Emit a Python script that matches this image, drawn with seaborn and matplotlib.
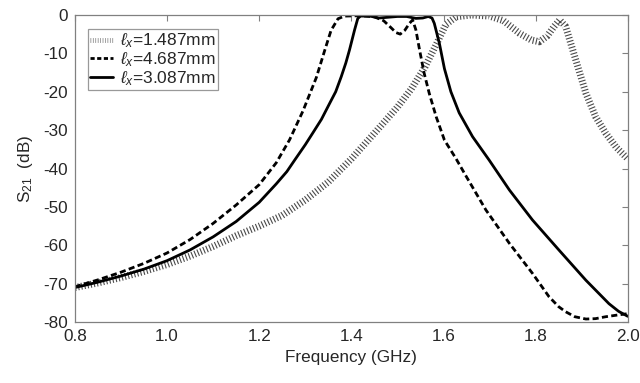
import numpy as np
import pandas as pd
import matplotlib
matplotlib.use("Agg")
import matplotlib.pyplot as plt
import seaborn as sns

# ---- data ----
f_a = [0.80, 0.85, 0.90, 0.95, 1.00, 1.05, 1.10, 1.15, 1.20, 1.25, 1.30, 1.35, 1.40, 1.45,
       1.50, 1.53, 1.56, 1.585, 1.605, 1.627, 1.66, 1.70, 1.73, 1.765, 1.79, 1.808, 1.825,
       1.84, 1.852, 1.865, 1.887, 1.909, 1.93, 1.952, 1.975, 2.00]
s_a = [-71.0, -69.8, -68.4, -66.8, -65.0, -62.8, -60.3, -57.5, -55.0, -52.2, -48.2, -43.5, -37.5, -30.8,
       -24.0, -19.3, -13.5, -7.5, -2.5, -0.5, 0.0, -0.3, -1.5, -4.8, -6.5, -7.0, -5.5,
       -3.0, -1.3, -3.0, -11.7, -20.4, -26.5, -30.8, -34.5, -37.5]

f_b = [0.80, 0.85, 0.90, 0.95, 1.00, 1.05, 1.10, 1.15, 1.20, 1.237, 1.266, 1.295, 1.324,
       1.342, 1.356, 1.371, 1.385, 1.42, 1.45, 1.47, 1.485, 1.497, 1.506, 1.516, 1.526,
       1.533, 1.540, 1.548, 1.558, 1.569, 1.584, 1.602, 1.627, 1.649, 1.692, 1.743, 1.793,
       1.829, 1.85, 1.865, 1.885, 1.909, 1.93, 1.952, 1.975, 2.00]
s_b = [-70.8, -69.0, -67.0, -64.7, -62.0, -58.5, -54.3, -49.5, -44.2, -38.5, -32.5, -25.0, -16.3,
       -9.3, -4.0, -1.0, -0.3, -0.2, -0.5, -1.5, -3.2, -4.6, -5.0, -4.0, -2.2,
       -1.3, -3.9, -9.1, -15.2, -20.4, -26.5, -32.6, -37.4, -42.0, -50.8, -59.5, -67.3,
       -73.4, -76.0, -77.3, -78.6, -79.2, -79.1, -78.6, -78.2, -77.8]

f_c = [0.80, 0.85, 0.90, 0.95, 1.00, 1.05, 1.10, 1.15, 1.20, 1.237, 1.26, 1.277, 1.30, 1.316,
       1.335, 1.353, 1.366, 1.378, 1.388, 1.396, 1.407, 1.414, 1.42, 1.44, 1.46, 1.48, 1.50,
       1.52, 1.54, 1.555, 1.567, 1.575, 1.580, 1.591, 1.602, 1.616, 1.634, 1.663, 1.699,
       1.743, 1.793, 1.851, 1.909, 1.959, 1.98, 2.00]
s_c = [-71.0, -69.6, -68.0, -66.2, -64.0, -61.2, -57.8, -53.8, -48.8, -44.0, -40.8, -37.8, -33.8, -30.8,
       -27.2, -23.0, -20.0, -16.1, -12.5, -9.1, -3.9, -0.9, -0.3, -0.3, -0.8, -0.6, -0.4,
       -0.4, -0.9, -0.8, -0.4, -0.8, -2.2, -7.4, -14.0, -20.0, -25.5, -31.7, -37.8,
       -45.6, -53.4, -61.3, -69.1, -75.2, -77.2, -78.5]

labels = [r'$\mathit{\ell_x}$=1.487mm', r'$\mathit{\ell_x}$=4.687mm', r'$\mathit{\ell_x}$=3.087mm']
x_ticks = [0.8, 1.0, 1.2, 1.4, 1.6, 1.8, 2.0]
y_ticks = [0, -10, -20, -30, -40, -50, -60, -70, -80]

sns.set_style("white")
plt.rcParams['font.family'] = ['Liberation Sans', 'DejaVu Sans']
plt.rcParams['mathtext.fontset'] = 'custom'
plt.rcParams['mathtext.rm'] = 'Liberation Sans'
plt.rcParams['mathtext.it'] = 'Liberation Sans:italic'
plt.rcParams['mathtext.default'] = 'regular'

fig = plt.figure(figsize=(6.4, 3.83), dpi=100)
ax = fig.add_axes([0.117, 0.159, 0.864, 0.802])

df_a = pd.DataFrame({'f': f_a, 's': s_a})
df_b = pd.DataFrame({'f': f_b, 's': s_b})
df_c = pd.DataFrame({'f': f_c, 's': s_c})

sns.lineplot(data=df_a, x='f', y='s', ax=ax, color='#4a4a4a', lw=5.0,
             label=labels[0], estimator=None, sort=False)
sns.lineplot(data=df_b, x='f', y='s', ax=ax, color='black', lw=2.0,
             label=labels[1], estimator=None, sort=False)
sns.lineplot(data=df_c, x='f', y='s', ax=ax, color='black', lw=2.0,
             label=labels[2], estimator=None, sort=False)

lines = ax.get_lines()
lines[0].set_linestyle((0, (0.16, 0.30)))
lines[0].set_dash_capstyle('butt')
lines[1].set_linestyle((0, (2.2, 1.2)))
lines[1].set_dash_capstyle('butt')
for ln in lines:
    ln.set_solid_joinstyle('round')
    ln.set_dash_joinstyle('round')

ax.set_xlim(0.8, 2.0)
ax.set_ylim(-80, 0)
ax.set_xticks(x_ticks)
ax.set_xticklabels([f"{t:.1f}" for t in x_ticks])
ax.set_yticks(y_ticks)
ax.set_yticklabels([str(t) for t in y_ticks])
ax.tick_params(direction='in', length=4, width=0.8, color='#808080',
               top=True, right=True, labelsize=12.3, pad=5)
for sp in ax.spines.values():
    sp.set_color('#808080')
    sp.set_linewidth(0.9)

ax.set_xlabel('Frequency (GHz)', fontsize=12.3, labelpad=4)
ax.set_ylabel(r'S$_{21}$  (dB)', fontsize=12.3, labelpad=6)

leg = ax.legend(loc='upper left', bbox_to_anchor=(0.023, 0.954), fontsize=12.5,
                frameon=True, fancybox=False, handlelength=1.3, handletextpad=0.4,
                borderpad=0.15, labelspacing=0.0, borderaxespad=0)
leg.get_frame().set_edgecolor('#808080')
leg.get_frame().set_linewidth(0.9)
leg_lines = leg.get_lines()
leg_lines[0].set_linestyle((0, (0.15, 0.35)))
leg_lines[0].set_linewidth(3.5)
leg_lines[0].set_color('#808080')
leg_lines[1].set_linestyle((0, (1.5, 0.9)))

fig.savefig('out.png', dpi=100)
